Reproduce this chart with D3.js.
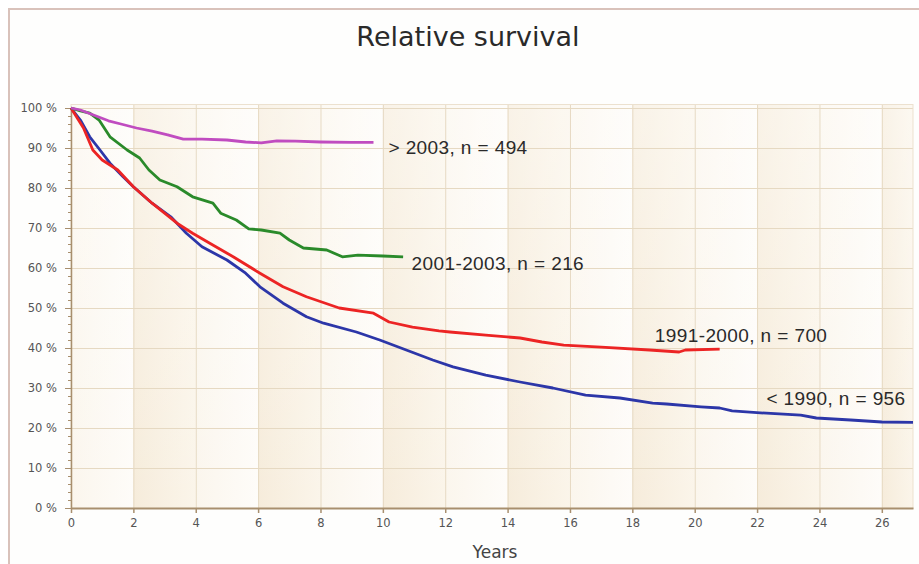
<!DOCTYPE html>
<html>
<head>
<meta charset="utf-8">
<script src="https://cdn.jsdelivr.net/npm/d3@7"></script>
<style>
  body { margin: 0; background: #fff; }
  svg { display: block; }
</style>
</head>
<body>
<div id="chart"></div>
<script>
"use strict";

// Years since diagnosis and relative survival (%) per cohort
const after2003Years = [0, 0.3, 0.7, 1.2, 1.6, 2.1, 2.6, 3.1, 3.6, 4.2, 5.0, 5.6, 6.1, 6.6, 7.2, 8.0, 9.0, 9.7];
const after2003Surv = [100, 99.5, 98.3, 96.8, 96, 95, 94.2, 93.3, 92.2, 92.2, 92, 91.5, 91.3, 91.8, 91.7, 91.5, 91.4, 91.4];

const c2001Years = [0, 0.3, 0.6, 0.9, 1.25, 1.8, 2.2, 2.5, 2.85, 3.4, 3.9, 4.55, 4.8, 5.3, 5.7, 6.1, 6.7, 7.0, 7.45, 8.2, 8.7, 9.2, 10.0, 10.65];
const c2001Surv = [100, 99.3, 98.7, 97, 92.8, 89.5, 87.5, 84.5, 82, 80.3, 77.8, 76.2, 73.7, 72, 69.8, 69.5, 68.7, 67, 65, 64.5, 62.8, 63.2, 63, 62.8];

const c1991Years = [0, 0.2, 0.4, 0.7, 1.0, 1.5, 2.0, 2.6, 3.4, 3.9, 4.45, 5.2, 6.06, 6.8, 7.55, 8.6, 9.7, 10.2, 10.95, 11.8, 12.15, 13.3, 14.4, 15.1, 15.8, 17.0, 18.55, 19.5, 19.7, 20.8];
const c1991Surv = [100, 97.5, 95, 89.5, 87, 84.5, 80.3, 76.2, 71.2, 68.7, 66.2, 62.8, 58.7, 55.3, 52.8, 50, 48.7, 46.5, 45.2, 44.3, 44, 43.2, 42.5, 41.5, 40.7, 40.2, 39.5, 39, 39.5, 39.7];

const c1990Years = [0, 0.3, 0.6, 0.93, 1.25, 1.67, 2.0, 2.6, 3.2, 3.7, 4.2, 5.0, 5.6, 6.06, 6.8, 7.55, 8.1, 9.15, 9.9, 10.75, 11.6, 12.25, 13.3, 14.4, 15.45, 16.5, 17.6, 18.65, 19.1, 20.2, 20.8, 21.2, 22.3, 23.4, 23.9, 25.0, 26.0, 27.0];
const c1990Surv = [100, 97, 92.8, 89.5, 86.2, 82.8, 80.3, 76.2, 72.8, 68.7, 65.3, 62, 58.7, 55.3, 51.2, 47.8, 46.2, 44, 42, 39.5, 37, 35.3, 33.2, 31.5, 30, 28.2, 27.5, 26.2, 26, 25.3, 25, 24.3, 23.7, 23.2, 22.5, 22, 21.5, 21.4];

const seriesNames = ["> 2003, n = 494", "2001-2003, n = 216", "1991-2000, n = 700", "< 1990, n = 956"];
const seriesColors = ["#c04cc0", "#2a8a2a", "#ec2424", "#2c36a8"];

const xTicks = d3.range(0, 27, 2);
const yTicks = d3.range(0, 101, 10);

function _main() {
  const W = 919, H = 564;
  const svg = d3.select("#chart").append("svg").attr("width", W).attr("height", H);

  const xScale = d3.scaleLinear().domain([0, 27]).range([71, 913]);
  const yScale = d3.scaleLinear().domain([0, 100]).range([508, 108]);

  addFrame(svg, W, H);
  addPlotBackground(svg, xScale, yScale);
  addAxes(svg, xScale, yScale);

  const series = [
    { years: after2003Years, surv: after2003Surv },
    { years: c2001Years, surv: c2001Surv },
    { years: c1991Years, surv: c1991Surv },
    { years: c1990Years, surv: c1990Surv },
  ];
  // draw oldest cohort first so newer ones sit on top
  [3, 2, 1, 0].forEach((i) => {
    const data = series[i].years.map((t, k) => ({ x: t, y: series[i].surv[k] }));
    addPlotLine(svg, data, xScale, yScale).attr("stroke", seriesColors[i]);
  });

  addSeriesLabels(svg, xScale, yScale);
}

function addFrame(svg, W, H) {
  svg.append("rect").attr("x", 8).attr("y", 8).attr("width", W - 8).attr("height", H - 8)
    .attr("fill", "#fefefd");
  svg.append("path")
    .attr("d", `M9,${H} V9 H${W}`)
    .attr("fill", "none").attr("stroke", "#d9c2bb").attr("stroke-width", 2);

  svg.append("text")
    .attr("x", 468).attr("y", 46)
    .attr("text-anchor", "middle")
    .attr("font-family", "DejaVu Sans, Verdana, sans-serif")
    .attr("font-size", 27)
    .attr("fill", "#2a2a2a")
    .text("Relative survival");
}

function addPlotBackground(svg, xScale, yScale) {
  const defs = svg.append("defs");
  const dark = defs.append("linearGradient").attr("id", "bandDark");
  dark.append("stop").attr("offset", "0%").attr("stop-color", "#f6ecdb");
  dark.append("stop").attr("offset", "100%").attr("stop-color", "#fbf5ea");
  const light = defs.append("linearGradient").attr("id", "bandLight");
  light.append("stop").attr("offset", "0%").attr("stop-color", "#fbf6ed");
  light.append("stop").attr("offset", "100%").attr("stop-color", "#fefcf9");
  const fade = defs.append("linearGradient").attr("id", "fadeV")
    .attr("x1", 0).attr("y1", 0).attr("x2", 0).attr("y2", 1);
  fade.append("stop").attr("offset", "0%").attr("stop-color", "#fff").attr("stop-opacity", 0.35);
  fade.append("stop").attr("offset", "100%").attr("stop-color", "#fff").attr("stop-opacity", 0);

  const top = yScale(100) - 4;
  const bottom = yScale(0);
  const bands = d3.range(0, 27, 2);
  svg.append("g")
    .selectAll("rect")
    .data(bands)
    .enter()
    .append("rect")
    .attr("x", (d) => xScale(d))
    .attr("y", top)
    .attr("width", (d) => xScale(Math.min(d + 2, 27)) - xScale(d))
    .attr("height", bottom - top)
    .attr("fill", (d) => (d % 4 === 2 ? "url(#bandDark)" : "url(#bandLight)"));
  svg.append("rect")
    .attr("x", xScale(0)).attr("y", top)
    .attr("width", xScale(27) - xScale(0)).attr("height", bottom - top)
    .attr("fill", "url(#fadeV)");

  // grid
  const grid = svg.append("g").attr("stroke", "#e6d9c2").attr("stroke-width", 1);
  grid.selectAll(".gx").data(xTicks.filter((d) => d > 0)).enter().append("line")
    .attr("x1", (d) => xScale(d) + 0.5).attr("x2", (d) => xScale(d) + 0.5)
    .attr("y1", top).attr("y2", bottom);
  grid.selectAll(".gy").data(yTicks.filter((d) => d > 0)).enter().append("line")
    .attr("x1", xScale(0)).attr("x2", xScale(27))
    .attr("y1", (d) => yScale(d) + 0.5).attr("y2", (d) => yScale(d) + 0.5);
  svg.append("rect")
    .attr("x", xScale(0)).attr("y", top + 0.5)
    .attr("width", xScale(27) - xScale(0)).attr("height", bottom - top)
    .attr("fill", "none").attr("stroke", "#ece1cf");
}

function addAxes(svg, xScale, yScale) {
  const font = "Tahoma, DejaVu Sans, sans-serif";

  // bottom x axis
  const xAxis = svg.append("g")
    .attr("transform", `translate(0, ${yScale(0)})`)
    .call(d3.axisBottom(xScale).tickValues(xTicks).tickSize(5).tickPadding(6).tickSizeOuter(0));
  xAxis.select(".domain").attr("stroke", "#a88f6e").attr("stroke-width", 2);
  xAxis.selectAll(".tick line").attr("stroke", "#a88f6e").attr("stroke-width", 1.5);
  xAxis.selectAll("text").attr("font-family", font).attr("font-size", 11.5).attr("fill", "#555");

  // left y axis with minor ticks every 2 %
  const yMinor = svg.append("g")
    .attr("transform", `translate(${xScale(0)}, 0)`)
    .call(d3.axisLeft(yScale).tickValues(d3.range(0, 101, 2)).tickSize(3).tickFormat(""));
  yMinor.select(".domain").remove();
  yMinor.selectAll(".tick line").attr("stroke", "#a88f6e");

  const yAxis = svg.append("g")
    .attr("transform", `translate(${xScale(0)}, 0)`)
    .call(d3.axisLeft(yScale).tickValues(yTicks).tickSize(6).tickPadding(8).tickSizeOuter(0)
      .tickFormat((d) => `${d} %`));
  yAxis.select(".domain").attr("stroke", "#a88f6e").attr("stroke-width", 1.5);
  yAxis.selectAll(".tick line").attr("stroke", "#a88f6e");
  yAxis.selectAll("text").attr("font-family", font).attr("font-size", 11.5).attr("fill", "#555");

  svg.append("text")
    .attr("x", 495).attr("y", 558)
    .attr("text-anchor", "middle")
    .attr("font-family", font)
    .attr("font-size", 17)
    .attr("fill", "#444")
    .text("Years");
}

function addPlotLine(svg, data, xScale, yScale) {
  const lineGenerator = d3.line()
    .x((d) => xScale(d.x))
    .y((d) => yScale(d.y));
  return svg.append("path")
    .datum(data)
    .attr("d", lineGenerator)
    .attr("fill", "none")
    .attr("stroke-width", 2.8)
    .attr("stroke-linejoin", "round");
}

function addSeriesLabels(svg, xScale, yScale) {
  // label anchors (years, %) beside each curve
  const anchors = [[10.18, 88.6], [10.92, 59.5], [18.72, 41.5], [22.3, 25.8]];
  svg.append("g")
    .selectAll("text")
    .data(seriesNames)
    .enter()
    .append("text")
    .attr("x", (d, i) => xScale(anchors[i][0]))
    .attr("y", (d, i) => yScale(anchors[i][1]))
    .attr("font-family", "Liberation Sans, Arial, sans-serif")
    .attr("font-size", 19)
    .attr("letter-spacing", 0.4)
    .attr("fill", "#2a2a2a")
    .text((d) => d);
}

_main();
</script>
</body>
</html>
